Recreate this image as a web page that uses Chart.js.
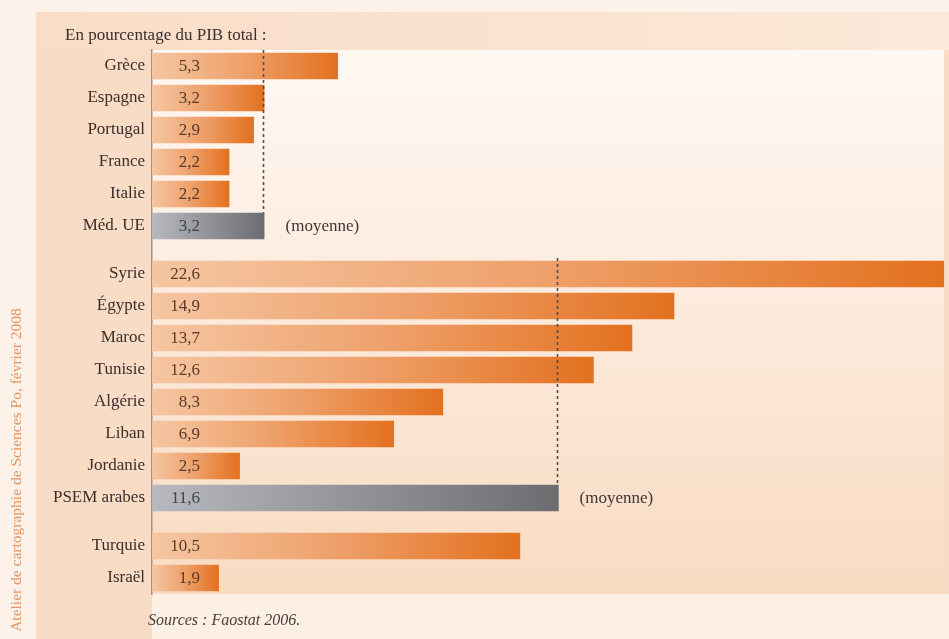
<!DOCTYPE html>
<html lang="fr">
<head>
<meta charset="utf-8">
<title>Part de l'agriculture dans le PIB</title>
<script src="https://cdn.jsdelivr.net/npm/chart.js@4.4.1/dist/chart.umd.min.js"></script>
<style>
  html, body { margin: 0; padding: 0; background: #fdf3ea; }
  canvas { display: block; }
</style>
</head>
<body>
<canvas id="pibChart" width="949" height="639"></canvas>
<script>
// ===== Données (% du PIB total) =====
const paysUE = ["Grèce", "Espagne", "Portugal", "France", "Italie", "Méd. UE"];
const valeursUE = [5.3, 3.2, 2.9, 2.2, 2.2, 3.2];

const paysPSEM = ["Syrie", "Égypte", "Maroc", "Tunisie", "Algérie", "Liban", "Jordanie", "PSEM arabes"];
const valeursPSEM = [22.6, 14.9, 13.7, 12.6, 8.3, 6.9, 2.5, 11.6];

const paysAutres = ["Turquie", "Israël"];
const valeursAutres = [10.5, 1.9];

// la dernière ligne de chaque groupe = moyenne (barre grise)
const groupes = [
    { pays: paysUE, valeurs: valeursUE, moyenne: true },
    { pays: paysPSEM, valeurs: valeursPSEM, moyenne: true },
    { pays: paysAutres, valeurs: valeursAutres, moyenne: false }
];

const ECART_GROUPE = 1.5; // espace entre les blocs, en hauteur de ligne

// ===== Position de chaque ligne sur l'axe y =====
const lignes = [];
let pos = 0;
groupes.forEach((g, gi) => {
    if (gi > 0) pos += ECART_GROUPE - 1;
    g.pays.forEach((nom, i) => {
        lignes.push({
            nom: nom,
            valeur: g.valeurs[i],
            pos: pos,
            groupe: gi,
            estMoyenne: g.moyenne && i === g.pays.length - 1
        });
        pos += 1;
    });
});

const FONT = "'Liberation Serif', 'Times New Roman', serif";

// dégradé par barre : clair à gauche, foncé à droite
function couleurBarre(ctx) {
    const chart = ctx.chart;
    if (!chart.chartArea || !ctx.parsed) return "#e8843a";
    const x = chart.scales.x;
    const x0 = x.getPixelForValue(0);
    const x1 = x.getPixelForValue(ctx.parsed.x);
    const grad = chart.ctx.createLinearGradient(x0, 0, Math.max(x1, x0 + 1), 0);
    if (lignes[ctx.dataIndex].estMoyenne) {
        grad.addColorStop(0, "#b7b9be");
        grad.addColorStop(1, "#6b6d71");
    } else {
        grad.addColorStop(0, "#f5c6a2");
        grad.addColorStop(0.5, "#eea06a");
        grad.addColorStop(1, "#e3711f");
    }
    return grad;
}

// ===== Fond, titres, valeurs, lignes de moyenne =====
const decorPlugin = {
    id: "decor",
    beforeDraw(chart) {
        const c = chart.ctx;
        const W = chart.width, H = chart.height;
        const area = chart.chartArea;
        c.save();
        c.fillStyle = "#fdf2e9";
        c.fillRect(0, 0, W, H);
        // cadre pêche
        c.fillStyle = "#f9dcc6";
        c.fillRect(36, 12, W - 36, H - 12);
        // bandeau du titre
        let g = c.createLinearGradient(36, 0, W, 0);
        g.addColorStop(0, "#f9ddc7");
        g.addColorStop(1, "#fbe8d8");
        c.fillStyle = g;
        c.fillRect(36, 12, W - 36, area.top - 12);
        // zone des barres
        g = c.createLinearGradient(0, area.top, 0, area.bottom);
        g.addColorStop(0, "#fef8f3");
        g.addColorStop(0.35, "#fdeee3");
        g.addColorStop(1, "#f9dbc1");
        c.fillStyle = g;
        c.fillRect(area.left, area.top, 944 - area.left, area.bottom - area.top);
        // bas de page
        c.fillStyle = "#fcefe4";
        c.fillRect(area.left, area.bottom, W - area.left, H - area.bottom);

        // titre
        c.fillStyle = "#3a2f2b";
        c.font = "17px " + FONT;
        c.textAlign = "left";
        c.textBaseline = "alphabetic";
        c.fillText("En pourcentage du PIB total :", 65, 40);

        // source
        c.font = "italic 16px " + FONT;
        c.fillStyle = "#4a403c";
        c.fillText("Sources : Faostat 2006.", 148, 625);

        // crédit vertical
        c.translate(21, 470);
        c.rotate(-Math.PI / 2);
        c.font = "15.5px " + FONT;
        c.fillStyle = "#e59561";
        c.textAlign = "center";
        c.fillText("Atelier de cartographie de Sciences Po, février 2008", 0, 0);
        c.restore();
    },
    afterDatasetsDraw(chart) {
        const c = chart.ctx;
        const x = chart.scales.x, y = chart.scales.y;
        const demi = 13;
        c.save();

        // lignes pointillées des moyennes
        groupes.forEach((g, gi) => {
            if (!g.moyenne) return;
            const rows = lignes.filter(l => l.groupe === gi);
            const moy = rows[rows.length - 1];
            const px = Math.round(x.getPixelForValue(moy.valeur)) - 0.5;
            const yHaut = y.getPixelForValue(rows[0].pos) - demi - 3;
            const yBas = y.getPixelForValue(moy.pos) - demi;
            c.beginPath();
            c.setLineDash([3, 3]);
            c.lineWidth = 1.6;
            c.strokeStyle = "#5b4a44";
            c.moveTo(px, yHaut);
            c.lineTo(px, yBas);
            c.stroke();
            c.setLineDash([]);

            c.font = "17px " + FONT;
            c.fillStyle = "#3f3532";
            c.textAlign = "left";
            c.textBaseline = "middle";
            c.fillText("(moyenne)", px + 22, y.getPixelForValue(moy.pos) + 1);
        });

        // valeurs dans les barres
        c.font = "17px " + FONT;
        c.textAlign = "right";
        c.textBaseline = "middle";
        lignes.forEach(l => {
            c.fillStyle = l.estMoyenne ? "#3d4350" : "#5a3a29";
            c.fillText(String(l.valeur).replace(".", ","), x.left + 48, y.getPixelForValue(l.pos) + 1);
        });
        c.restore();
    }
};

new Chart(document.getElementById("pibChart"), {
    type: "bar",
    data: {
        datasets: [{
            data: lignes.map(l => ({ x: l.valeur, y: l.pos })),
            backgroundColor: couleurBarre,
            borderWidth: 0,
            barThickness: 26
        }]
    },
    options: {
        indexAxis: "y",
        responsive: false,
        animation: false,
        layout: { padding: { top: 50, bottom: 45, left: 0, right: 0 } },
        plugins: {
            legend: { display: false },
            tooltip: { enabled: false }
        },
        scales: {
            x: {
                type: "linear",
                min: 0,
                max: 22.75,
                display: false
            },
            y: {
                type: "linear",
                reverse: true,
                offset: false,
                min: -0.5,
                max: 16.5,
                afterFit: scale => { scale.width = 152; },
                afterBuildTicks: scale => {
                    scale.ticks = lignes.map(l => ({ value: l.pos }));
                },
                grid: { display: false, drawTicks: false },
                border: { display: true, color: "#a3928a", width: 1.5 },
                ticks: {
                    autoSkip: false,
                    padding: 7,
                    color: "#3a2f2b",
                    font: { family: FONT, size: 17 },
                    callback: (value, index) => lignes[index] ? lignes[index].nom : ""
                }
            }
        }
    },
    plugins: [decorPlugin]
});
</script>
</body>
</html>
